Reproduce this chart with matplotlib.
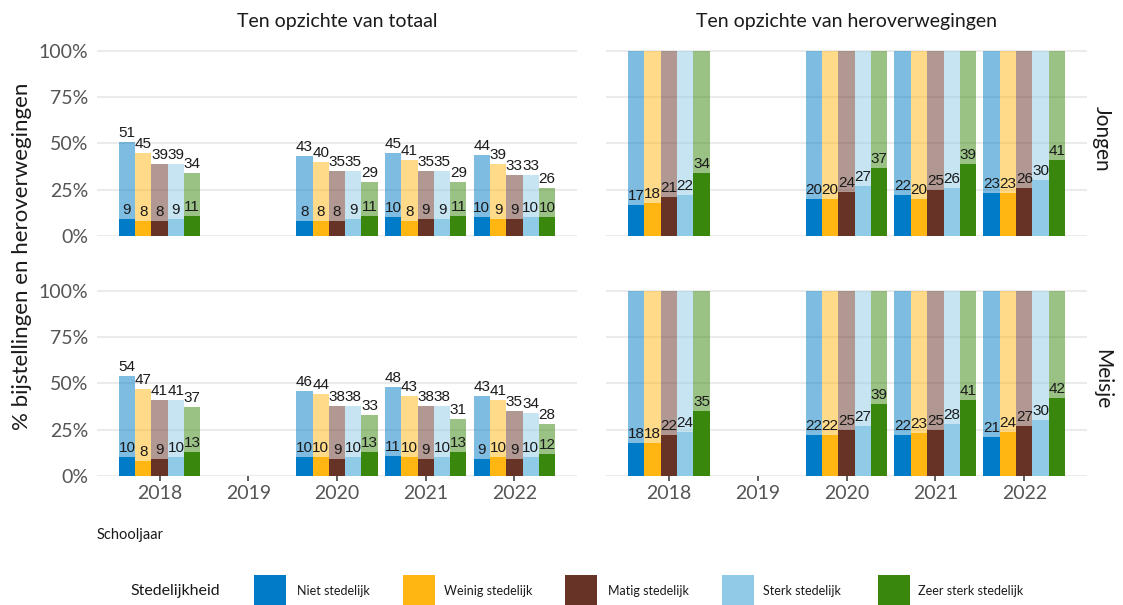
import numpy as np
import matplotlib.pyplot as plt
from matplotlib.patches import Rectangle

# Data
jaren = [2018, 2020, 2021, 2022]
tick_jaren = [2018, 2019, 2020, 2021, 2022]
categorieen = ["Niet stedelijk", "Weinig stedelijk", "Matig stedelijk",
               "Sterk stedelijk", "Zeer sterk stedelijk"]
kleuren = ["#007BC7", "#FFB612", "#673327", "#8FCAE7", "#39870C"]

# % heroverwegingen t.o.v. totaal (rij = jaar, kolom = stedelijkheid)
jongen_herov = [[51, 45, 39, 39, 34],
                [43, 40, 35, 35, 29],
                [45, 41, 35, 35, 29],
                [44, 39, 33, 33, 26]]
jongen_bijst = [[9, 8, 8, 9, 11],
                [8, 8, 8, 9, 11],
                [10, 8, 9, 9, 11],
                [10, 9, 9, 10, 10]]
meisje_herov = [[54, 47, 41, 41, 37],
                [46, 44, 38, 38, 33],
                [48, 43, 38, 38, 31],
                [43, 41, 35, 34, 28]]
meisje_bijst = [[10, 8, 9, 10, 13],
                [10, 10, 9, 10, 13],
                [11, 10, 9, 10, 13],
                [9, 10, 9, 10, 12]]

# % bijstellingen t.o.v. heroverwegingen
jongen_ratio = [[17, 18, 21, 22, 34],
                [20, 20, 24, 27, 37],
                [22, 20, 25, 26, 39],
                [23, 23, 26, 30, 41]]
meisje_ratio = [[18, 18, 22, 24, 35],
                [22, 22, 25, 27, 39],
                [22, 23, 25, 28, 41],
                [21, 24, 27, 30, 42]]

font_ui = "Lato"
font_lbl = "Liberation Sans"

fig = plt.figure(figsize=(11.23, 6.05), dpi=100)
W, H = 1123, 605

def ax_at(x0, x1, ytop, ybot):
    return fig.add_axes([x0 / W, 1 - ybot / H, (x1 - x0) / W, (ybot - ytop) / H])

axes = {
    ("jongen", 0): ax_at(97, 577, 41.7, 236),
    ("jongen", 1): ax_at(606, 1087, 41.7, 236),
    ("meisje", 0): ax_at(97, 577, 281.5, 476),
    ("meisje", 1): ax_at(606, 1087, 281.5, 476),
}

bw = 0.184
off = 3.6  # punten boven de staaf

def draw_panel(ax, hoog, laag, toon_hoog):
    for j, jaar in enumerate(jaren):
        for i in range(5):
            x = jaar + (i - 2) * bw
            ax.bar(x, hoog[j][i], width=bw, color=kleuren[i], alpha=0.5,
                   linewidth=0, zorder=2)
            ax.bar(x, laag[j][i], width=bw, color=kleuren[i],
                   linewidth=0, zorder=3)
            if toon_hoog:
                ax.annotate(str(hoog[j][i]), (x, hoog[j][i]), xytext=(0, off),
                            textcoords="offset points", ha="center", va="baseline",
                            fontsize=11, family=font_lbl, color="#1a1a1a", zorder=5)
            ax.annotate(str(laag[j][i]), (x, laag[j][i]), xytext=(0, off),
                        textcoords="offset points", ha="center", va="baseline",
                        fontsize=11, family=font_lbl, color="#1a1a1a", zorder=5)

honderd = [[100] * 5 for _ in jaren]
draw_panel(axes[("jongen", 0)], jongen_herov, jongen_bijst, True)
draw_panel(axes[("meisje", 0)], meisje_herov, meisje_bijst, True)
draw_panel(axes[("jongen", 1)], honderd, jongen_ratio, False)
draw_panel(axes[("meisje", 1)], honderd, meisje_ratio, False)

for (rij, kol), ax in axes.items():
    ax.set_ylim(0, 105)
    ax.margins(x=0.05)
    ax.set_yticks([0, 25, 50, 75, 100])
    ax.grid(axis="y", color="#EBEBEB", linewidth=1.5, zorder=0)
    ax.set_axisbelow(True)
    for s in ax.spines.values():
        s.set_visible(False)
    ax.set_xticks(tick_jaren)
    if kol == 0:
        ax.set_yticklabels(["0%", "25%", "50%", "75%", "100%"], family=font_ui,
                           fontsize=14, color="#555555")
    else:
        ax.set_yticklabels([])
    ax.tick_params(axis="y", length=0, pad=6.5)
    if rij == "meisje":
        ax.set_xticklabels([str(t) for t in tick_jaren], family=font_ui,
                           fontsize=14, color="#555555")
        ax.tick_params(axis="x", length=3.6, width=1.1, color="#333333", pad=3)
    else:
        ax.set_xticklabels([])
        ax.tick_params(axis="x", length=0)

# Titels en strips
fig.text(337 / W, 1 - 22 / H, "Ten opzichte van totaal", ha="center", va="center",
         family=font_ui, fontsize=14, color="#1a1a1a")
fig.text(846 / W, 1 - 22 / H, "Ten opzichte van heroverwegingen", ha="center",
         va="center", family=font_ui, fontsize=14, color="#1a1a1a")
fig.text(1102 / W, 1 - 139 / H, "Jongen", rotation=-90, ha="center", va="center",
         family=font_ui, fontsize=15, color="#1a1a1a")
fig.text(1102 / W, 1 - 379 / H, "Meisje", rotation=-90, ha="center", va="center",
         family=font_ui, fontsize=15, color="#1a1a1a")
fig.text(22 / W, 1 - 256 / H, "% bijstellingen en heroverwegingen", rotation=90,
         ha="center", va="center", family=font_ui, fontsize=16, color="#1a1a1a")
fig.text(97 / W, 1 - 535 / H, "Schooljaar", ha="left", va="center",
         family=font_ui, fontsize=10.5, color="#1a1a1a")

# Legenda
fig.text(130 / W, 1 - 591 / H, "Stedelijkheid", ha="left", va="center",
         family=font_ui, fontsize=11.5, color="#1a1a1a")
key_x = [254, 403, 565, 722, 878]
tekst_x = [297, 444, 608, 763, 918]
for kx, tx, kleur, naam in zip(key_x, tekst_x, kleuren, categorieen):
    fig.add_artist(Rectangle((kx / W, 1 - 607 / H), 32 / W, 32 / H,
                             transform=fig.transFigure, color=kleur, linewidth=0))
    fig.text(tx / W, 1 - 591 / H, naam, ha="left", va="center",
             family=font_ui, fontsize=9, color="#1a1a1a")

fig.savefig("out.png", dpi=100)
